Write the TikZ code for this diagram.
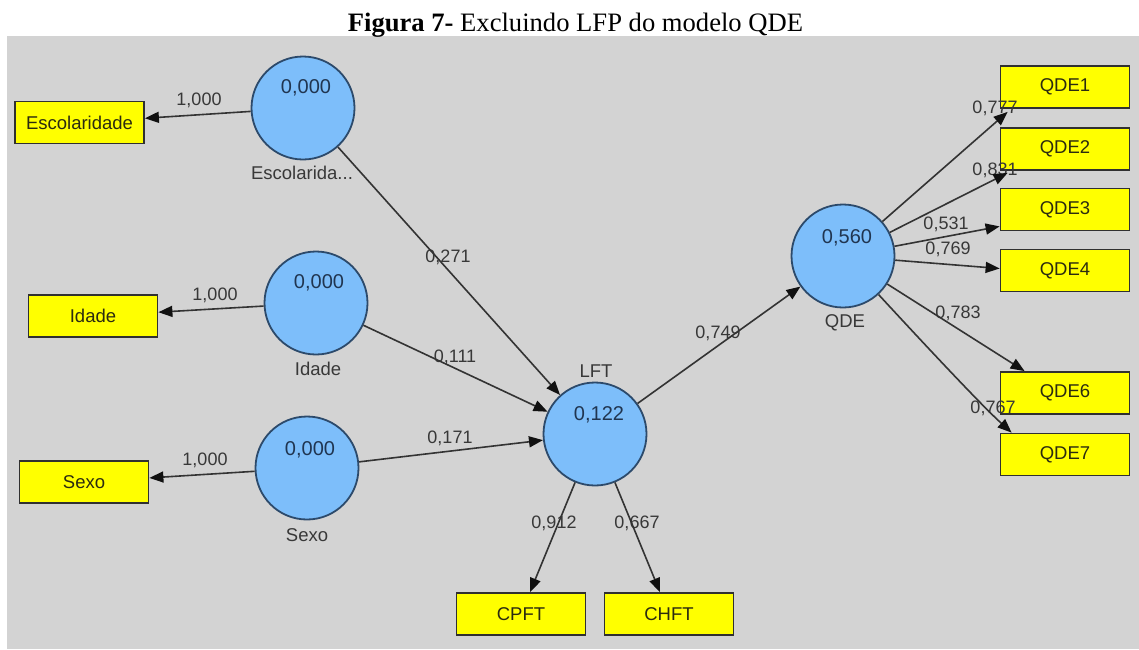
\documentclass[tikz,border=0pt]{standalone}
\usepackage{fontspec}
\setmainfont{Liberation Serif}
\newfontfamily\arialfont{Liberation Sans}
\usetikzlibrary{arrows.meta}

\definecolor{canvas}{HTML}{D3D3D3}
\definecolor{circfill}{RGB}{125,190,250}
\definecolor{circedge}{HTML}{2C4A6B}
\definecolor{boxfill}{HTML}{FFFF00}
\definecolor{boxedge}{HTML}{303030}
\definecolor{boxtext}{HTML}{2B2B10}
\definecolor{valtext}{HTML}{203550}
\definecolor{wtext}{HTML}{383838}
\definecolor{linec}{HTML}{333333}
\definecolor{tipc}{HTML}{111111}

\begin{document}
\begin{tikzpicture}[x=1pt,y=-1pt,
  lv/.style={circle,draw=circedge,fill=circfill,line width=1.8pt,
    minimum size=103pt,inner sep=0pt},
  mv/.style={rectangle,draw=boxedge,fill=boxfill,line width=1.8pt,
    minimum width=129pt,minimum height=42pt,inner sep=0pt,
    font=\arialfont\fontsize{18.5}{20}\selectfont,text=boxtext},
  val/.style={font=\arialfont\fontsize{20}{22}\selectfont,text=valtext,inner sep=0pt},
  lvname/.style={font=\arialfont\fontsize{18.5}{20}\selectfont,text=wtext,inner sep=0pt},
  wt/.style={font=\arialfont\fontsize{18}{20}\selectfont,text=wtext,inner sep=0pt},
  arr/.style={-{Triangle[length=14pt,width=11pt,color=tipc,fill=tipc]},line width=1.6pt,draw=linec}]

% page and canvas
\useasboundingbox (0,0) rectangle (1139,649);
\fill[white] (0,0) rectangle (1139,649);
\fill[canvas] (7,36) rectangle (1139,649);

% caption
\node[anchor=base,inner sep=0pt,font=\fontsize{26.6}{30}\selectfont] (title) at (575.5,31)
  {\textbf{Figura 7-} Excluindo LFP do modelo QDE};

% latent variables
\node[lv] (esc) at (303,108) {};
\node[lv] (ida) at (316,303) {};
\node[lv] (sex) at (307,468) {};
\node[lv] (lft) at (595,434) {};
\node[lv] (qde) at (843,256) {};

\node[val] (vesc) at (306,88)  {0,000};
\node[val] (vida) at (319,283) {0,000};
\node[val] (vsex) at (310,450) {0,000};
\node[val] (vlft) at (599,415) {0,122};
\node[val] (vqde) at (847,238) {0,560};

\node[lvname] (cesc) at (302,173) {Escolarida...};
\node[lvname] (cida) at (318,369) {Idade};
\node[lvname] (csex) at (307,535) {Sexo};
\node[lvname] (clft) at (596,371) {LFT};
\node[lvname] (cqde) at (845,323) {QDE};

% indicators
\node[mv] (bEsc) at (79.5,122.5) {Escolaridade};
\node[mv] (bIda) at (93,316)     {Idade};
\node[mv] (bSex) at (84,482)     {Sexo};
\node[mv] (cpft) at (521,614)    {CPFT};
\node[mv] (chft) at (669,614)    {CHFT};
\node[mv] (q1) at (1065,87)      {QDE1};
\node[mv] (q2) at (1065,149)     {QDE2};
\node[mv] (q3) at (1065,209.5)   {QDE3};
\node[mv] (q4) at (1065,270.5)   {QDE4};
\node[mv] (q6) at (1065,393)     {QDE6};
\node[mv] (q7) at (1065,454.5)   {QDE7};

% path coefficients and loadings
\node[wt] (w1) at (199,100) {1,000};
\node[wt] (w2) at (215,295) {1,000};
\node[wt] (w3) at (205,460) {1,000};
\node[wt] (w4) at (448,257) {0,271};
\node[wt] (w5) at (455,357) {0,111};
\node[wt] (w6) at (450,438) {0,171};
\node[wt] (w7) at (718,333) {0,749};
\node[wt] (w8) at (554,523) {0,912};
\node[wt] (w9) at (637,523) {0,667};
\node[wt] (l1) at (995,108) {0,777};
\node[wt] (l2) at (995,170) {0,831};
\node[wt] (l3) at (946,224) {0,531};
\node[wt] (l4) at (948,249) {0,769};
\node[wt] (l6) at (958,313) {0,783};
\node[wt] (l7) at (993,408) {0,767};

% arrows
\draw[arr] (esc) -- (bEsc);
\draw[arr] (ida) -- (bIda);
\draw[arr] (sex) -- (bSex);
\draw[arr] (esc) -- (lft);
\draw[arr] (ida) -- (lft);
\draw[arr] (sex) -- (lft);
\draw[arr] (lft) -- (qde);
\draw[arr] (lft) -- (cpft);
\draw[arr] (lft) -- (chft);
\draw[arr] (qde) -- ([xshift=8pt,yshift=-3pt]q1.south west);
\draw[arr] (qde) -- ([xshift=8pt,yshift=-2pt]q2.south west);
\draw[arr] (qde) -- ([yshift=5pt]q3.south west);
\draw[arr] (qde) -- ([yshift=2pt]q4.west);
\draw[arr] (qde) -- ([xshift=25pt]q6.north west);
\draw[arr] (qde) .. controls (985,410) and (1000,422) .. ([xshift=12pt]q7.north west);
\end{tikzpicture}
\end{document}
